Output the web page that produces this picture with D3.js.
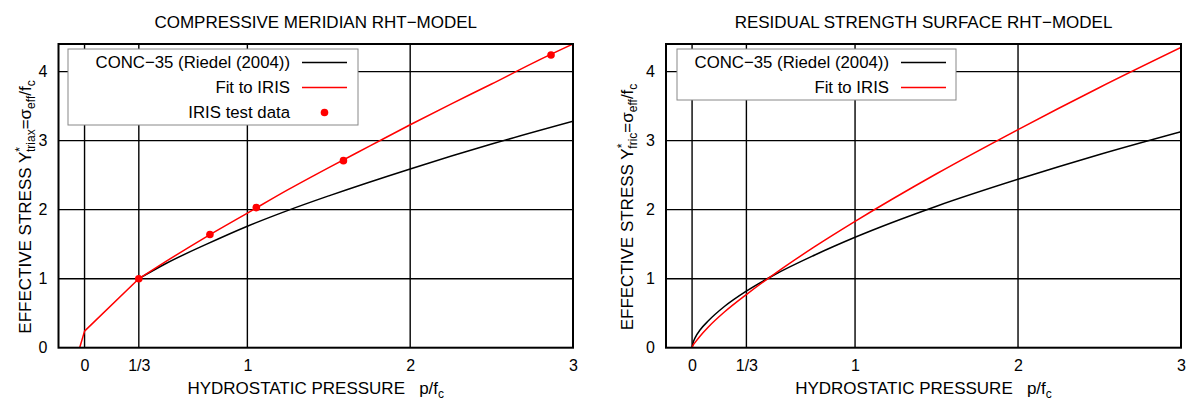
<!DOCTYPE html>
<html>
<head>
<meta charset="utf-8">
<script src="https://cdn.jsdelivr.net/npm/d3@7"></script>
<style>
  body { margin: 0; background: #fff; }
  text { font-family: "Liberation Sans", Arial, sans-serif; fill: #000; }
</style>
</head>
<body>
<div id="chart"></div>
<script>
// ---- data ----
var xTicks = [0, 1 / 3, 1, 2, 3];
var xTickLabels = ["0", "1/3", "1", "2", "3"];
var yTicks = [0, 1, 2, 3, 4];

// compressive meridian
var meridianConcX = [0.333, 0.5, 0.75, 1, 1.25, 1.5, 2, 2.5, 3];
var meridianConcY = [1.0, 1.22, 1.5, 1.76, 1.99, 2.2, 2.59, 2.95, 3.28];
// straight cap part of the fit below p = fc/3
var meridianCapX = [-0.03, 0, 0.333];
var meridianCapY = [0, 0.24, 1.0];
var meridianFitX = [0.333, 0.5, 0.75, 1, 1.25, 1.5, 1.75, 2, 2.25, 2.5, 2.75, 3];
var meridianFitY = [1.0, 1.25, 1.61, 1.95, 2.29, 2.61, 2.92, 3.23, 3.53, 3.82, 4.12, 4.40];
var irisX = [0.333, 0.77, 1.055, 1.59, 2.865];
var irisY = [1.0, 1.64, 2.03, 2.71, 4.24];

// residual strength surface
var residualConcX = [0, 0.005, 0.02, 0.05, 0.1, 0.2, 0.333, 0.5, 0.75, 1, 1.5, 2, 2.5, 3];
var residualConcY = [0, 0.06, 0.15, 0.26, 0.39, 0.6, 0.82, 1.05, 1.34, 1.6, 2.05, 2.44, 2.8, 3.13];
var residualFitX = [0, 0.005, 0.02, 0.05, 0.1, 0.2, 0.333, 0.5, 0.75, 1, 1.5, 2, 2.5, 3];
var residualFitY = [0, 0.03, 0.08, 0.17, 0.3, 0.52, 0.77, 1.06, 1.46, 1.83, 2.52, 3.16, 3.77, 4.35];

var width = 1190, height = 402;
var svg = d3.select("#chart").append("svg")
    .attr("width", width)
    .attr("height", height);

function zip(xs, ys) {
    return xs.map(function (x, i) { return { x: x, y: ys[i] }; });
}

function DrawPanel(cfg) {
    var g = svg.append("g");
    var xScale = d3.scaleLinear().domain([-0.16, 3]).range([cfg.left, cfg.right]);
    var yScale = d3.scaleLinear().domain([0, 4.4]).range([cfg.bottom, cfg.top]);

    g.append("clipPath").attr("id", cfg.id + "clip")
        .append("rect")
        .attr("x", cfg.left).attr("y", cfg.top)
        .attr("width", cfg.right - cfg.left).attr("height", cfg.bottom - cfg.top);

    // grid
    g.selectAll(".gx").data(xTicks.slice(0, 4)).enter().append("line")
        .attr("x1", function (d) { return xScale(d); })
        .attr("x2", function (d) { return xScale(d); })
        .attr("y1", cfg.top).attr("y2", cfg.bottom)
        .attr("stroke", "#000").attr("stroke-width", 1.4);
    g.selectAll(".gy").data(yTicks.slice(1)).enter().append("line")
        .attr("y1", function (d) { return yScale(d); })
        .attr("y2", function (d) { return yScale(d); })
        .attr("x1", cfg.left).attr("x2", cfg.right)
        .attr("stroke", "#000").attr("stroke-width", 1.4);

    // axes labels
    var ax = g.append("g")
        .attr("transform", "translate(0," + cfg.bottom + ")")
        .call(d3.axisBottom(xScale).tickValues(xTicks)
            .tickFormat(function (d, i) { return xTickLabels[i]; })
            .tickSize(0).tickPadding(12));
    var ay = g.append("g")
        .attr("transform", "translate(" + cfg.left + ",0)")
        .call(d3.axisLeft(yScale).tickValues(yTicks)
            .tickFormat(d3.format("d"))
            .tickSize(0).tickPadding(11));
    ax.select(".domain").remove();
    ay.select(".domain").remove();
    g.selectAll(".tick text")
        .attr("font-family", "Liberation Sans, Arial, sans-serif")
        .attr("font-size", 16)
        .attr("fill", "#000");

    // curves
    var curves = g.append("g").attr("clip-path", "url(#" + cfg.id + "clip)");
    cfg.lines.forEach(function (ln) {
        var line_generator = d3.line()
            .x(function (d) { return xScale(d.x); })
            .y(function (d) { return yScale(d.y); })
            .curve(ln.straight ? d3.curveLinear : d3.curveMonotoneX);
        curves.append("path")
            .attr("d", line_generator(ln.data))
            .attr("fill", "none")
            .attr("stroke", ln.color)
            .attr("stroke-width", 1.5)
            .attr("stroke-linejoin", "round");
    });
    if (cfg.points) {
        curves.selectAll("circle").data(cfg.points).enter().append("circle")
            .attr("cx", function (d) { return xScale(d.x); })
            .attr("cy", function (d) { return yScale(d.y); })
            .attr("r", 3.8)
            .attr("fill", "#f00");
    }

    // frame
    g.append("rect")
        .attr("x", cfg.left).attr("y", cfg.top)
        .attr("width", cfg.right - cfg.left).attr("height", cfg.bottom - cfg.top)
        .attr("fill", "none").attr("stroke", "#000").attr("stroke-width", 2);

    // legend
    var lg = g.append("g");
    lg.append("rect")
        .attr("x", cfg.legend.x).attr("y", cfg.legend.y)
        .attr("width", cfg.legend.w).attr("height", cfg.legend.h)
        .attr("fill", "#fff").attr("stroke", "#888").attr("stroke-width", 1);
    cfg.legend.items.forEach(function (it, i) {
        var yy = cfg.legend.y + 13.5 + i * 25;
        lg.append("text")
            .attr("x", cfg.legend.tx).attr("y", yy)
            .attr("dy", "0.35em")
            .attr("text-anchor", "end")
            .attr("font-size", 16.8)
            .text(it.label);
        if (it.type === "line") {
            lg.append("line")
                .attr("x1", cfg.legend.tx + 12).attr("x2", cfg.legend.tx + 57)
                .attr("y1", yy).attr("y2", yy)
                .attr("stroke", it.color).attr("stroke-width", 1.5);
        } else {
            lg.append("circle")
                .attr("cx", cfg.legend.tx + 34.5).attr("cy", yy)
                .attr("r", 3.8).attr("fill", it.color);
        }
    });

    // title
    g.append("text")
        .attr("x", (cfg.left + cfg.right) / 2).attr("y", 28)
        .attr("text-anchor", "middle")
        .attr("font-size", 17)
        .text(cfg.title);

    // x label
    var xl = g.append("text")
        .attr("x", (cfg.left + cfg.right) / 2).attr("y", 394)
        .attr("text-anchor", "middle")
        .attr("font-size", 17)
        .style("white-space", "pre");
    xl.append("tspan").text("HYDROSTATIC PRESSURE   p/f");
    xl.append("tspan").attr("dy", 4).attr("font-size", 12).text("c");

    // y label
    var yl = g.append("text")
        .attr("transform", "translate(" + cfg.ylabX + ",207) rotate(-90)")
        .attr("text-anchor", "middle")
        .attr("font-size", 17);
    yl.append("tspan").text("EFFECTIVE STRESS Y");
    yl.append("tspan").attr("dy", -7).attr("font-size", 12).text("*");
    yl.append("tspan").attr("dx", -5).attr("dy", 11).attr("font-size", 12).text(cfg.sub);
    yl.append("tspan").attr("dy", -4).text("=σ");
    yl.append("tspan").attr("dy", 4).attr("font-size", 12).text("eff");
    yl.append("tspan").attr("dy", -4).text("/f");
    yl.append("tspan").attr("dy", 4).attr("font-size", 12).text("c");
}

DrawPanel({
    id: "left",
    left: 58.5, right: 573, top: 44, bottom: 347.7,
    title: "COMPRESSIVE MERIDIAN RHT\u2212MODEL",
    sub: "triax",
    ylabX: 31,
    lines: [
        { data: zip(meridianConcX, meridianConcY), color: "#000" },
        { data: zip(meridianCapX, meridianCapY), color: "#f00", straight: true },
        { data: zip(meridianFitX, meridianFitY), color: "#f00" }
    ],
    points: zip(irisX, irisY),
    legend: {
        x: 68, y: 49, w: 290, h: 76, tx: 290,
        items: [
            { label: "CONC\u221235 (Riedel (2004))", type: "line", color: "#000" },
            { label: "Fit to IRIS", type: "line", color: "#f00" },
            { label: "IRIS test data", type: "point", color: "#f00" }
        ]
    }
});

DrawPanel({
    id: "right",
    left: 666, right: 1181, top: 44, bottom: 347.7,
    title: "RESIDUAL STRENGTH SURFACE RHT\u2212MODEL",
    sub: "fric",
    ylabX: 633,
    lines: [
        { data: zip(residualConcX, residualConcY), color: "#000" },
        { data: zip(residualFitX, residualFitY), color: "#f00" }
    ],
    legend: {
        x: 677, y: 49, w: 279, h: 51, tx: 889,
        items: [
            { label: "CONC\u221235 (Riedel (2004))", type: "line", color: "#000" },
            { label: "Fit to IRIS", type: "line", color: "#f00" }
        ]
    }
});
</script>
</body>
</html>
